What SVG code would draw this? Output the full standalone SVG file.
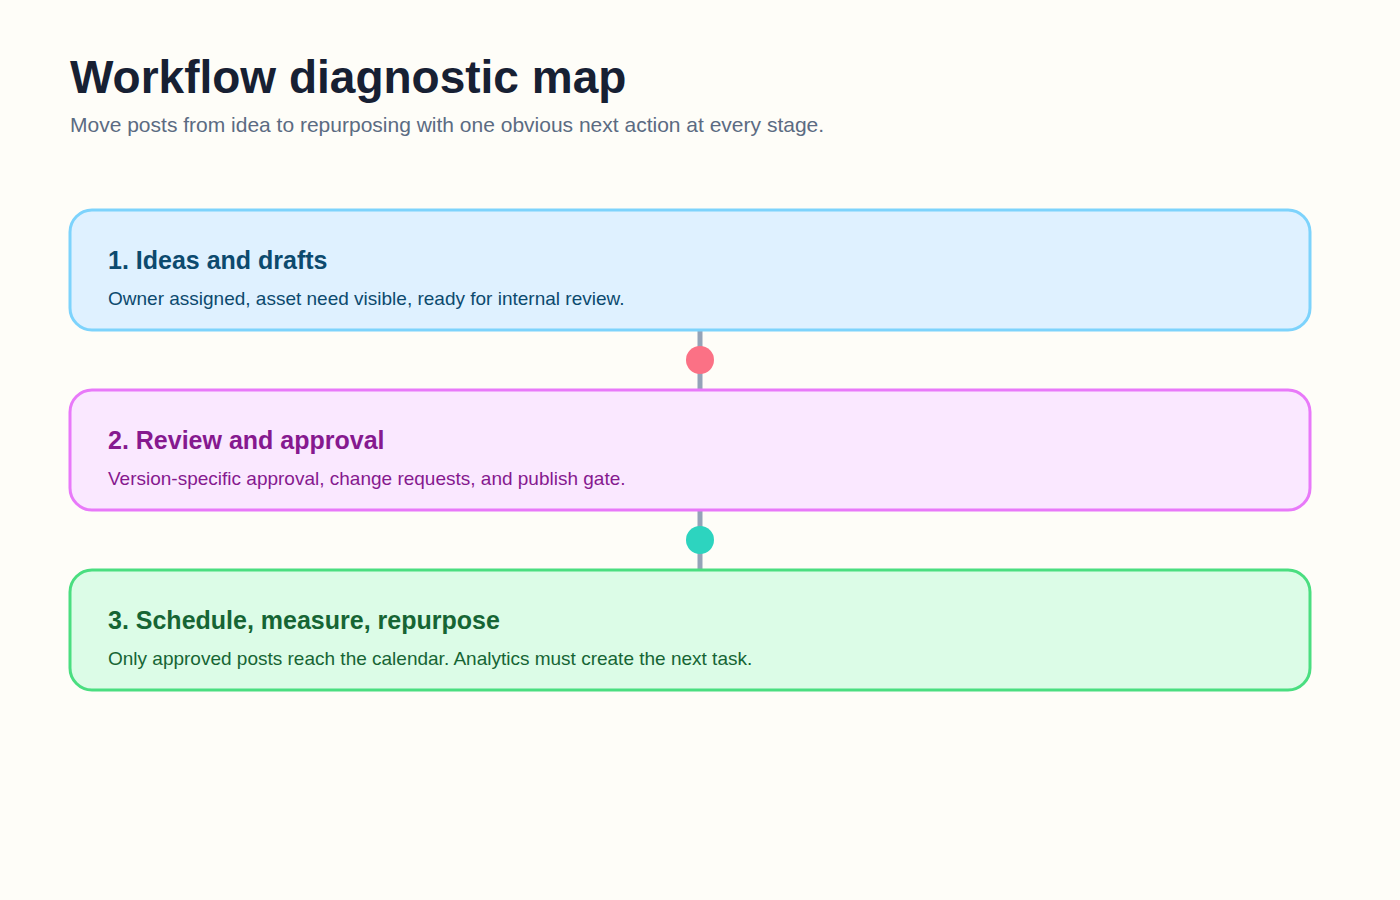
<svg xmlns="http://www.w3.org/2000/svg" width="1400" height="900" viewBox="0 0 1400 900">
<style>
.t{font-family:"Liberation Sans",Arial,sans-serif}
.h{font-size:25px;font-weight:bold}
.d{font-size:19px}
.box{stroke-width:3}
</style>
<rect width="1400" height="900" fill="#fefdf8"/>
<text class="t" x="70" y="93" font-size="46" font-weight="bold" fill="#172033">Workflow diagnostic map</text>
<text class="t" x="70" y="132" font-size="21" fill="#5b6b82">Move posts from idea to repurposing with one obvious next action at every stage.</text>
<g id="connectors">
<line x1="700" y1="330" x2="700" y2="390" stroke="#94a3b8" stroke-width="5"/>
<circle cx="700" cy="360" r="14" fill="#fb7185"/>
<line x1="700" y1="510" x2="700" y2="570" stroke="#94a3b8" stroke-width="5"/>
<circle cx="700" cy="540" r="14" fill="#2dd4bf"/>
</g>
<g id="n1"><rect class="box" x="70" y="210" width="1240" height="120" rx="22" fill="#dff1ff" stroke="#7dd3fc"/>
<text class="t h" x="108" y="269" fill="#0c4a6e">1. Ideas and drafts</text>
<text class="t d" x="108" y="305" fill="#0c4a6e">Owner assigned, asset need visible, ready for internal review.</text></g>
<g id="n2"><rect class="box" x="70" y="390" width="1240" height="120" rx="22" fill="#fae8ff" stroke="#e879f9"/>
<text class="t h" x="108" y="449" fill="#86198f">2. Review and approval</text>
<text class="t d" x="108" y="485" fill="#86198f">Version-specific approval, change requests, and publish gate.</text></g>
<g id="n3"><rect class="box" x="70" y="570" width="1240" height="120" rx="22" fill="#dcfce7" stroke="#4ade80"/>
<text class="t h" x="108" y="629" fill="#166534">3. Schedule, measure, repurpose</text>
<text class="t d" x="108" y="665" fill="#166534">Only approved posts reach the calendar. Analytics must create the next task.</text></g>
</svg>
